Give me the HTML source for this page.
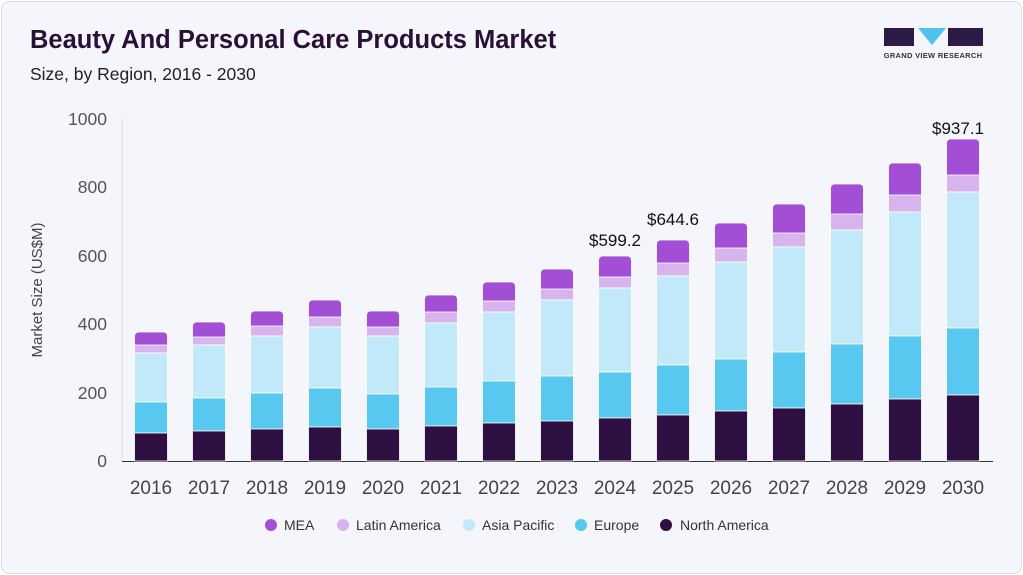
<!DOCTYPE html><html><head><style>
body{margin:0;width:1023px;height:575px;background:#fff;font-family:"Liberation Sans",sans-serif;overflow:hidden}
.card{position:absolute;left:1px;top:1px;width:1019px;height:571px;border:1px solid #dcdce6;border-radius:8px;background:#f5f6fb}
</style></head><body><div class="card"></div>
<svg width="1023" height="575" style="position:absolute;left:0;top:0" font-family="Liberation Sans, sans-serif">
<text x="30" y="48" font-size="25.5" font-weight="bold" fill="#2a1038">Beauty And Personal Care Products Market</text>
<text x="30" y="80" font-size="17.5" fill="#222">Size, by Region, 2016 - 2030</text>
<rect x="884" y="28" width="30" height="18" fill="#2e1a47"/><rect x="948" y="28" width="35" height="18" fill="#2e1a47"/>
<polygon points="918,28 946,28 932,45" fill="#4fc3ef"/>
<text x="933" y="58" font-size="7.5" font-weight="bold" fill="#333" text-anchor="middle" letter-spacing="0.3">GRAND VIEW RESEARCH</text>
<g font-size="17.5" fill="#555" text-anchor="end"><text x="107" y="125">1000</text><text x="107" y="193">800</text><text x="107" y="262">600</text><text x="107" y="330">400</text><text x="107" y="399">200</text><text x="107" y="467">0</text></g>
<text transform="translate(42,290) rotate(-90)" font-size="15" fill="#444" text-anchor="middle">Market Size (US$M)</text>
<line x1="122" y1="119" x2="122" y2="461" stroke="#ddd"/>
<line x1="122" y1="461.5" x2="993" y2="461.5" stroke="#333"/>
<g id="bars" stroke="#fff" stroke-width="0.8">
<g transform="translate(134.5,0)"><rect y="332" width="33" height="20" rx="4" fill="#a24fd6"/><rect y="345" width="33" height="8" fill="#d8b4ee"/><rect y="353" width="33" height="49" fill="#c2e9f9"/><rect y="402" width="33" height="31" fill="#58c8f0"/><rect y="433" width="33" height="28" fill="#2e0f42"/></g>
<g transform="translate(192.5,0)"><rect y="322" width="33" height="22" rx="4" fill="#a24fd6"/><rect y="337" width="33" height="8" fill="#d8b4ee"/><rect y="345" width="33" height="53" fill="#c2e9f9"/><rect y="398" width="33" height="33" fill="#58c8f0"/><rect y="431" width="33" height="30" fill="#2e0f42"/></g>
<g transform="translate(250.5,0)"><rect y="311" width="33" height="22" rx="4" fill="#a24fd6"/><rect y="326" width="33" height="10" fill="#d8b4ee"/><rect y="336" width="33" height="57" fill="#c2e9f9"/><rect y="393" width="33" height="36" fill="#58c8f0"/><rect y="429" width="33" height="32" fill="#2e0f42"/></g>
<g transform="translate(308.5,0)"><rect y="300" width="33" height="24" rx="4" fill="#a24fd6"/><rect y="317" width="33" height="10" fill="#d8b4ee"/><rect y="327" width="33" height="61" fill="#c2e9f9"/><rect y="388" width="33" height="39" fill="#58c8f0"/><rect y="427" width="33" height="34" fill="#2e0f42"/></g>
<g transform="translate(366.5,0)"><rect y="311" width="33" height="23" rx="4" fill="#a24fd6"/><rect y="327" width="33" height="9" fill="#d8b4ee"/><rect y="336" width="33" height="58" fill="#c2e9f9"/><rect y="394" width="33" height="35" fill="#58c8f0"/><rect y="429" width="33" height="32" fill="#2e0f42"/></g>
<g transform="translate(424.5,0)"><rect y="295" width="33" height="24" rx="4" fill="#a24fd6"/><rect y="312" width="33" height="11" fill="#d8b4ee"/><rect y="323" width="33" height="64" fill="#c2e9f9"/><rect y="387" width="33" height="39" fill="#58c8f0"/><rect y="426" width="33" height="35" fill="#2e0f42"/></g>
<g transform="translate(482.5,0)"><rect y="282" width="33" height="26" rx="4" fill="#a24fd6"/><rect y="301" width="33" height="11" fill="#d8b4ee"/><rect y="312" width="33" height="69" fill="#c2e9f9"/><rect y="381" width="33" height="42" fill="#58c8f0"/><rect y="423" width="33" height="38" fill="#2e0f42"/></g>
<g transform="translate(540.5,0)"><rect y="269" width="33" height="27" rx="4" fill="#a24fd6"/><rect y="289" width="33" height="11" fill="#d8b4ee"/><rect y="300" width="33" height="76" fill="#c2e9f9"/><rect y="376" width="33" height="45" fill="#58c8f0"/><rect y="421" width="33" height="40" fill="#2e0f42"/></g>
<g transform="translate(598.5,0)"><rect y="256" width="33" height="28" rx="4" fill="#a24fd6"/><rect y="277" width="33" height="11" fill="#d8b4ee"/><rect y="288" width="33" height="84" fill="#c2e9f9"/><rect y="372" width="33" height="46" fill="#58c8f0"/><rect y="418" width="33" height="43" fill="#2e0f42"/></g>
<g transform="translate(656.5,0)"><rect y="240" width="33" height="30" rx="4" fill="#a24fd6"/><rect y="263" width="33" height="13" fill="#d8b4ee"/><rect y="276" width="33" height="89" fill="#c2e9f9"/><rect y="365" width="33" height="50" fill="#58c8f0"/><rect y="415" width="33" height="46" fill="#2e0f42"/></g>
<g transform="translate(714.5,0)"><rect y="223" width="33" height="32" rx="4" fill="#a24fd6"/><rect y="248" width="33" height="14" fill="#d8b4ee"/><rect y="262" width="33" height="97" fill="#c2e9f9"/><rect y="359" width="33" height="52" fill="#58c8f0"/><rect y="411" width="33" height="50" fill="#2e0f42"/></g>
<g transform="translate(772.5,0)"><rect y="204" width="33" height="36" rx="4" fill="#a24fd6"/><rect y="233" width="33" height="14" fill="#d8b4ee"/><rect y="247" width="33" height="105" fill="#c2e9f9"/><rect y="352" width="33" height="56" fill="#58c8f0"/><rect y="408" width="33" height="53" fill="#2e0f42"/></g>
<g transform="translate(830.5,0)"><rect y="184" width="33" height="37" rx="4" fill="#a24fd6"/><rect y="214" width="33" height="16" fill="#d8b4ee"/><rect y="230" width="33" height="114" fill="#c2e9f9"/><rect y="344" width="33" height="60" fill="#58c8f0"/><rect y="404" width="33" height="57" fill="#2e0f42"/></g>
<g transform="translate(888.5,0)"><rect y="163" width="33" height="39" rx="4" fill="#a24fd6"/><rect y="195" width="33" height="17" fill="#d8b4ee"/><rect y="212" width="33" height="124" fill="#c2e9f9"/><rect y="336" width="33" height="63" fill="#58c8f0"/><rect y="399" width="33" height="62" fill="#2e0f42"/></g>
<g transform="translate(946.5,0)"><rect y="139" width="33" height="43" rx="4" fill="#a24fd6"/><rect y="175" width="33" height="17" fill="#d8b4ee"/><rect y="192" width="33" height="136" fill="#c2e9f9"/><rect y="328" width="33" height="67" fill="#58c8f0"/><rect y="395" width="33" height="66" fill="#2e0f42"/></g>
</g>
<g font-size="17" fill="#111" text-anchor="middle"><text x="615" y="246">$599.2</text><text x="673" y="225">$644.6</text><text x="958" y="134">$937.1</text></g>
<g font-size="19" fill="#444" text-anchor="middle"><text x="151" y="494">2016</text><text x="209" y="494">2017</text><text x="267" y="494">2018</text><text x="325" y="494">2019</text><text x="383" y="494">2020</text><text x="441" y="494">2021</text><text x="499" y="494">2022</text><text x="557" y="494">2023</text><text x="615" y="494">2024</text><text x="673" y="494">2025</text><text x="731" y="494">2026</text><text x="789" y="494">2027</text><text x="847" y="494">2028</text><text x="905" y="494">2029</text><text x="963" y="494">2030</text></g>
<g font-size="14" fill="#333">
<circle cx="271" cy="525" r="6" fill="#a24fd6"/><text x="284" y="530">MEA</text>
<circle cx="343" cy="525" r="6" fill="#d8b4ee"/><text x="356" y="530">Latin America</text>
<circle cx="469" cy="525" r="6" fill="#c2e9f9"/><text x="482" y="530">Asia Pacific</text>
<circle cx="581" cy="525" r="6" fill="#58c8f0"/><text x="594" y="530">Europe</text>
<circle cx="666" cy="525" r="6" fill="#2e0f42"/><text x="680" y="530">North America</text>
</g>
</svg></body></html>
